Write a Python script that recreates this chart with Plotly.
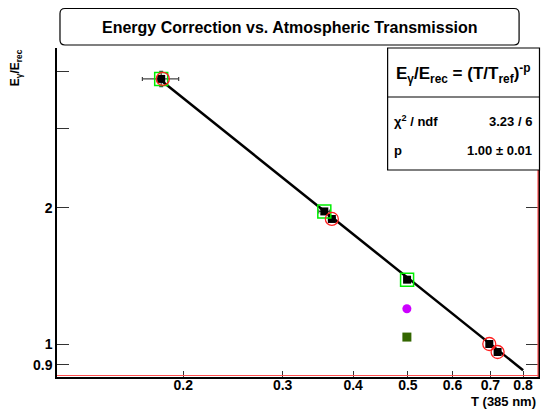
import plotly.graph_objects as go

# ---- data ----
t_all = [0.1828, 0.3556, 0.3667, 0.4984, 0.697, 0.721]
e_all = [3.86, 1.965, 1.891, 1.388, 1.000, 0.960]
t_err_all = [0.0135, 0.008, 0.005, 0.005, 0.005, 0.005]
e_err_all = [0.15, 0.02, 0.015, 0.012, 0.01, 0.01]

t_green = [0.1828, 0.3556, 0.4984]
e_green = [3.86, 1.965, 1.388]

t_red = [0.1840, 0.3667, 0.697, 0.721]
e_red = [3.86, 1.891, 1.000, 0.960]

t_purple = [0.498]
e_purple = [1.197]

t_olive = [0.498]
e_olive = [1.036]
t_err_side = [0.008]

# fit: E/Erec = (T/Tref)^-p
fit_p = 1.00
fit_tref = 0.70
fit_t = [0.183, 0.80]
fit_e = [(t / fit_tref) ** (-fit_p) for t in fit_t]

x_ticks = [0.2, 0.3, 0.4, 0.5, 0.6, 0.7, 0.8]
x_ticktext = ["0.2", "0.3", "0.4", "0.5", "0.6", "0.7", "0.8"]
y_ticks = [0.9, 1, 2]
y_ticktext = ["0.9", "1", "2"]
y_minor_ticks = [3, 4]

# ---- geometry helpers (pixel -> paper) ----
W, H = 541, 412
L, R, T, B = 57, 540, 48, 377


def px(xp):
    return (xp - L) / (R - L)


def py(yp):
    return (B - yp) / (B - T)


FONT = "Liberation Sans, Arial, sans-serif"

fig = go.Figure()

fig.add_trace(go.Scatter(x=fit_t, y=fit_e, mode="lines",
                         line=dict(color="black", width=2.5),
                         hoverinfo="skip", showlegend=False))

fig.add_trace(go.Scatter(
    x=t_all, y=e_all, mode="markers",
    marker=dict(symbol="square", size=8, color="black"),
    error_x=dict(type="data", array=t_err_all, color="#444444", thickness=1.2, width=2),
    error_y=dict(type="data", array=e_err_all, color="#444444", thickness=1.2, width=2),
    showlegend=False))

fig.add_trace(go.Scatter(
    x=t_green, y=e_green, mode="markers",
    marker=dict(symbol="square-open", size=13, color="#00ee00", line=dict(width=1.5, color="#00ee00")),
    showlegend=False))

fig.add_trace(go.Scatter(
    x=t_red, y=e_red, mode="markers",
    marker=dict(symbol="circle-open", size=13, color="#ff2020", line=dict(width=1.3, color="#ff2020")),
    showlegend=False))

fig.add_trace(go.Scatter(
    x=t_purple, y=e_purple, mode="markers",
    marker=dict(symbol="circle", size=9, color="#cc00ff"),
    error_x=dict(type="data", array=t_err_side, color="#777777", thickness=1.5, width=0),
    showlegend=False))

fig.add_trace(go.Scatter(
    x=t_olive, y=e_olive, mode="markers",
    marker=dict(symbol="square", size=9, color="#336600"),
    error_x=dict(type="data", array=t_err_side, color="#777777", thickness=1.5, width=0),
    showlegend=False))

shapes = []
# red right border and red bottom line
shapes.append(dict(type="line", xref="paper", yref="paper", x0=1, x1=1, y0=0, y1=1,
                   line=dict(color="#ff5050", width=1.2), layer="above"))
shapes.append(dict(type="line", xref="paper", yref="paper", x0=0, x1=1, y0=py(375.5), y1=py(375.5),
                   line=dict(color="#ff5050", width=1), layer="above"))

# title box (rounded)
x0, x1, y0, y1 = px(60), px(521), py(8.5), py(45)
rx, ry = 5 / (R - L), 5 / (B - T)
path = (f"M {x0+rx},{y0} L {x1-rx},{y0} Q {x1},{y0} {x1},{y0-ry} "
        f"L {x1},{y1+ry} Q {x1},{y1} {x1-rx},{y1} L {x0+rx},{y1} "
        f"Q {x0},{y1} {x0},{y1+ry} L {x0},{y0-ry} Q {x0},{y0} {x0+rx},{y0} Z")
shapes.append(dict(type="path", xref="paper", yref="paper", path=path,
                   line=dict(color="black", width=1.2), fillcolor="white", layer="above"))

# stats box
shapes.append(dict(type="rect", xref="paper", yref="paper", x0=px(389), x1=px(541.5),
                   y0=py(48), y1=py(170), line=dict(color="black", width=1.2),
                   fillcolor="white", layer="above"))
shapes.append(dict(type="line", xref="paper", yref="paper", x0=px(389), x1=px(541.5),
                   y0=py(97), y1=py(97), line=dict(color="black", width=1.2), layer="above"))

annotations = [
    dict(text="<b>Energy Correction vs. Atmospheric Transmission</b>", xref="paper", yref="paper",
         x=px(290.5), y=py(27), xanchor="center", yanchor="middle", showarrow=False,
         font=dict(family=FONT, size=16, color="black")),
    dict(text="<b>E<sub>γ</sub>/E<sub>rec</sub> = (T/T<sub>ref</sub>)<sup>-p</sup></b>",
         xref="paper", yref="paper", x=px(465), y=py(73), xanchor="center", yanchor="middle",
         showarrow=False, font=dict(family=FONT, size=17, color="black")),
    dict(text="<b>χ<sup>2</sup> / ndf</b>", xref="paper", yref="paper", x=px(393), y=py(121),
         xanchor="left", yanchor="middle", showarrow=False,
         font=dict(family=FONT, size=13, color="black")),
    dict(text="<b>3.23 / 6</b>", xref="paper", yref="paper", x=px(536), y=py(121),
         xanchor="right", yanchor="middle", showarrow=False,
         font=dict(family=FONT, size=13, color="black")),
    dict(text="<b>p</b>", xref="paper", yref="paper", x=px(393), y=py(150),
         xanchor="left", yanchor="middle", showarrow=False,
         font=dict(family=FONT, size=13, color="black")),
    dict(text="<b>1.00 ± 0.01</b>", xref="paper", yref="paper", x=px(536), y=py(150),
         xanchor="right", yanchor="middle", showarrow=False,
         font=dict(family=FONT, size=13, color="black")),
    dict(text="<b>T (385 nm)</b>", xref="paper", yref="paper", x=px(540), y=py(401),
         xanchor="right", yanchor="middle", showarrow=False,
         font=dict(family=FONT, size=13, color="black")),
    dict(text="<b>E<sub>γ</sub>/E<sub>rec</sub></b>", xref="paper", yref="paper", x=px(16), y=py(68),
         xanchor="center", yanchor="middle", showarrow=False, textangle=-90,
         font=dict(family=FONT, size=12, color="black")),
]

fig.update_layout(
    width=W, height=H,
    margin=dict(l=L, r=W - R, t=T, b=H - B, pad=0),
    paper_bgcolor="white", plot_bgcolor="white",
    shapes=shapes, annotations=annotations,
    font=dict(family=FONT, color="black"),
    xaxis=dict(type="log", range=[-0.9226, -0.0705], tickvals=x_ticks, ticktext=x_ticktext,
               ticks="inside", ticklen=6, tickwidth=1, tickcolor="#333333",
               showline=True, linecolor="black", linewidth=2, mirror=False,
               showgrid=False, zeroline=False, ticklabelstandoff=-6,
               tickfont=dict(family=FONT, size=14, color="black", weight="bold")),
    yaxis=dict(type="log", range=[-0.073, 0.655], tickvals=y_ticks, ticktext=y_ticktext,
               ticks="inside", ticklen=12, tickwidth=1, tickcolor="#333333",
               showline=True, linecolor="black", linewidth=1.5, mirror="ticks",
               showgrid=False, zeroline=False,
               minor=dict(tickvals=y_minor_ticks, ticks="inside", ticklen=12,
                          tickwidth=1, tickcolor="#333333", showgrid=False),
               tickfont=dict(family=FONT, size=14, color="black", weight="bold")),
)

fig.write_html("out.html", config={"displayModeBar": False},
               post_script="document.body.style.margin='0';document.body.style.padding='0';")
